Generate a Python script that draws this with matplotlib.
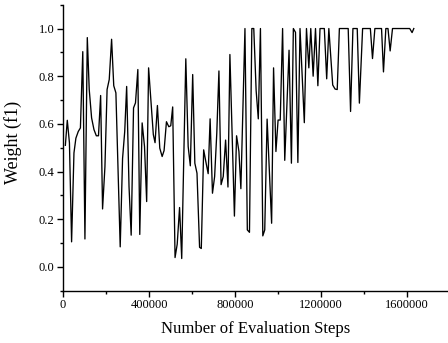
import matplotlib
matplotlib.use("Agg")
import matplotlib.pyplot as plt
from matplotlib.ticker import MultipleLocator

steps = [11000, 20000, 30000, 40000, 51000, 60000, 71000, 81000, 92000, 102000,
         113000, 122000, 133000, 144000, 155000, 165000, 175000, 184000, 195000, 205000,
         215000, 226000, 236000, 246000, 266000, 277000, 287000, 296000, 307000, 317000,
         328000, 337000, 348000, 357000, 368000, 379000, 389000, 398000, 420000, 428000,
         439000, 450000, 461000, 470000, 481000, 492000, 501000, 510000, 521000, 531000,
         542000, 552000, 571000, 582000, 592000, 603000, 613000, 623000, 635000, 643000,
         654000, 664000, 675000, 684000, 695000, 705000, 715000, 725000, 735000, 745000,
         756000, 767000, 776000, 797000, 807000, 818000, 827000, 846000, 857000, 867000,
         878000, 887000, 898000, 908000, 918000, 929000, 938000, 949000, 970000, 979000,
         990000, 1000000, 1010000, 1021000, 1031000, 1051000, 1062000, 1071000, 1081000, 1092000,
         1102000, 1122000, 1132000, 1143000, 1152000, 1163000, 1174000, 1185000, 1195000, 1215000,
         1226000, 1236000, 1254000, 1265000, 1275000, 1285000, 1326000, 1337000, 1348000, 1368000,
         1378000, 1393000, 1429000, 1439000, 1450000, 1481000, 1490000, 1501000, 1511000, 1521000,
         1532000, 1612000, 1623000, 1631000]

weights = [0.51, 0.615, 0.52, 0.105, 0.478, 0.54, 0.568, 0.583, 0.903, 0.117,
           0.962, 0.744, 0.625, 0.576, 0.55, 0.55, 0.719, 0.243, 0.42, 0.744,
           0.786, 0.955, 0.76, 0.73, 0.084, 0.455, 0.568, 0.757, 0.337, 0.133,
           0.667, 0.688, 0.828, 0.136, 0.604, 0.505, 0.274, 0.835, 0.555, 0.521,
           0.677, 0.498, 0.463, 0.488, 0.609, 0.588, 0.592, 0.671, 0.039, 0.095,
           0.249, 0.035, 0.873, 0.505, 0.424, 0.807, 0.435, 0.393, 0.082, 0.077,
           0.491, 0.442, 0.391, 0.621, 0.309, 0.379, 0.56, 0.822, 0.345, 0.379,
           0.532, 0.335, 0.891, 0.213, 0.55, 0.484, 0.328, 1.0, 0.155, 0.145,
           1.0, 1.0, 0.74, 0.621, 1.0, 0.13, 0.155, 0.62, 0.183, 0.835,
           0.484, 0.616, 0.616, 1.0, 0.447, 0.909, 0.435, 1.0, 0.984, 0.438,
           1.0, 0.605, 1.0, 0.835, 1.0, 0.8, 1.0, 0.76, 1.0, 1.0,
           0.789, 1.0, 0.763, 0.746, 0.744, 1.0, 1.0, 0.652, 1.0, 1.0,
           0.687, 1.0, 1.0, 0.874, 1.0, 1.0, 0.818, 1.0, 1.0, 0.906,
           1.0, 1.0, 0.983, 1.0]

x_ticks = [0, 400000, 800000, 1200000, 1600000]
y_ticks = [0.0, 0.2, 0.4, 0.6, 0.8, 1.0]

plt.rcParams['font.family'] = ['Liberation Serif', 'DejaVu Serif']

fig = plt.figure(figsize=(4.48, 3.43), dpi=100)
ax = fig.add_axes([0.1406, 0.1525, 0.8594, 0.8338])
ax.plot(steps, weights, color='black', lw=0.95)

ax.set_xlim(0, 1790000)
ax.set_ylim(-0.1, 1.1)
ax.set_xticks(x_ticks)
ax.set_xticklabels([str(v) for v in x_ticks])
ax.set_yticks(y_ticks)
ax.set_yticklabels([f"{v:.1f}" for v in y_ticks])
ax.xaxis.set_minor_locator(MultipleLocator(200000))
ax.yaxis.set_minor_locator(MultipleLocator(0.1))

for s in ['top', 'right']:
    ax.spines[s].set_visible(False)
for s in ['left', 'bottom']:
    ax.spines[s].set_linewidth(1.0)

ax.tick_params(which='major', direction='out', length=4, width=1.0, labelsize=9, pad=2)
ax.tick_params(which='minor', direction='out', length=2.5, width=1.0)

ax.set_xlabel('Number of Evaluation Steps', fontsize=12, labelpad=7)
ax.set_ylabel('Weight (f1)', fontsize=13, labelpad=10)
ax.yaxis.set_label_coords(-0.107, 0.52)

fig.savefig('out.png', dpi=100)
